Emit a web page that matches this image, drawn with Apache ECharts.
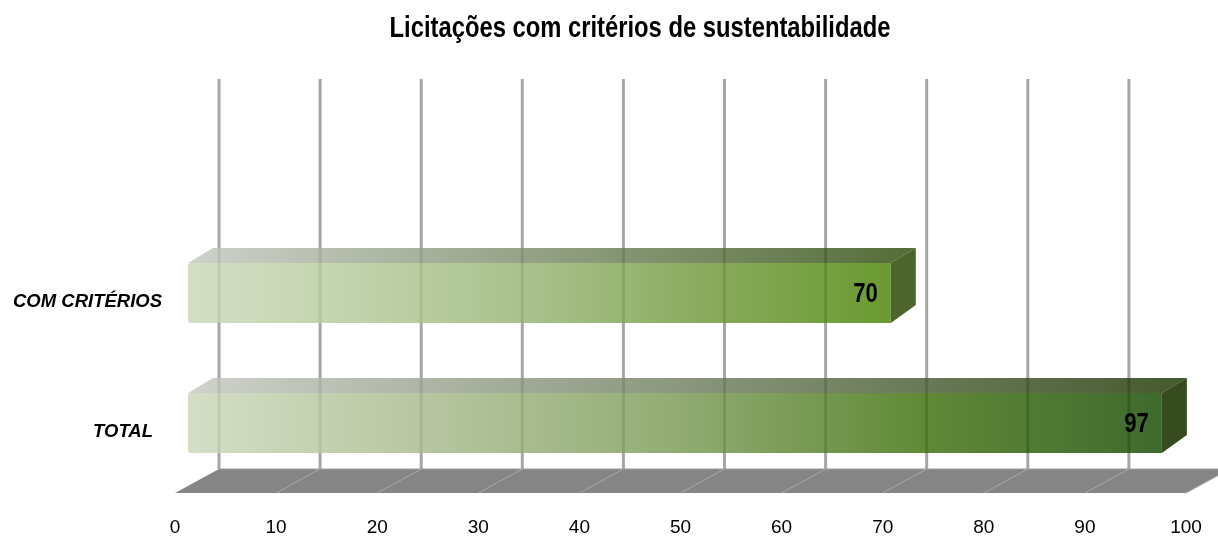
<!DOCTYPE html>
<html>
<head>
<meta charset="utf-8">
<script src="https://cdn.jsdelivr.net/npm/echarts@6/dist/echarts.min.js"></script>
<style>
html,body{margin:0;padding:0;background:#fff;}
#chart{width:1218px;height:538px;}
</style>
</head>
<body>
<div id="chart"></div>
<script>
const chartTitle = 'Licitações com critérios de sustentabilidade';
const categories = ['TOTAL', 'COM CRITÉRIOS'];
const values = [97, 70];
const xTicks = [0, 10, 20, 30, 40, 50, 60, 70, 80, 90, 100];

const FONT = "'Liberation Sans', Arial, sans-serif";
const NARROW_SCALE = 0.82;
const DEPTH_X = 44, DEPTH_Y = 24;      // back wall offset for floor/grid
const BAR_DX = 25, BAR_DY = 15;         // bar depth
const barStyles = [
  { front: ['#cbd7b9', '#a6b98a', '#7a9a55', '#3f700c', '#144900'], topL: '#c4c8c0', topR: '#1c3500', side: '#203905' },
  { front: ['#cbd7b9', '#b2c897', '#94b270', '#6e9736', '#498403'], topL: '#c4c8c0', topR: '#2e4c0c', side: '#3a5416' }
];

const chart = echarts.init(document.getElementById('chart'), null, { renderer: 'canvas' });

const option = {
  animation: false,
  backgroundColor: '#ffffff',
  graphic: [
    {
      type: 'text',
      x: 640, y: 29,
      scaleX: NARROW_SCALE,
      style: {
        text: chartTitle,
        align: 'center', verticalAlign: 'middle',
        fontFamily: FONT, fontWeight: 'bold', fontSize: 29, fill: '#000'
      }
    }
  ],
  grid: [
    { left: 175, right: 32, top: 79, bottom: 45, outerBoundsMode: 'none', containLabel: false },
    { left: 188, right: 26, top: 228, bottom: 50, outerBoundsMode: 'none', containLabel: false }
  ],
  xAxis: [
    {
      gridIndex: 0, type: 'value', min: 0, max: 100, interval: 10,
      axisLine: { show: false }, axisTick: { show: false }, splitLine: { show: false },
      axisLabel: { fontFamily: FONT, fontSize: 19, color: '#000', margin: 25 }
    },
    {
      gridIndex: 1, type: 'value', min: 0, max: 100, interval: 10, show: false
    }
  ],
  yAxis: [
    { gridIndex: 0, type: 'value', min: 0, max: 1, show: false },
    {
      gridIndex: 1, type: 'category', data: categories,
      axisLine: { show: false }, axisTick: { show: false }, splitLine: { show: false },
      axisLabel: {
        margin: 26,
        formatter: function (v) { return v === 'TOTAL' ? '{b|' + v + '}' : '{a|' + v + '}'; },
        rich: {
          a: { fontFamily: FONT, fontSize: 18.5, fontWeight: 'bold', fontStyle: 'italic', color: '#000', padding: [18, 0, 0, 0] },
          b: { fontFamily: FONT, fontSize: 18.5, fontWeight: 'bold', fontStyle: 'italic', color: '#000', padding: [18, 9, 0, 0] }
        }
      }
    }
  ],
  series: [
    {
      type: 'custom',
      xAxisIndex: 0, yAxisIndex: 0,
      silent: true,
      data: [[0, 0]],
      renderItem: function (params, api) {
        const cs = params.coordSys;
        const yFront = cs.y + cs.height;
        const yBack = yFront - DEPTH_Y;
        const children = [];
        xTicks.forEach(function (t) {
          const x = api.coord([t, 0])[0] + DEPTH_X;
          children.push({
            type: 'line', z2: 1,
            shape: { x1: x, y1: cs.y, x2: x, y2: yBack },
            style: { stroke: '#a6a6a6', lineWidth: 3 }
          });
        });
        const x0 = api.coord([xTicks[0], 0])[0];
        const x1 = api.coord([xTicks[xTicks.length - 1], 0])[0];
        children.push({
          type: 'polygon', z2: 2,
          shape: { points: [[x0, yFront], [x0 + DEPTH_X, yBack], [x1 + DEPTH_X, yBack], [x1, yFront]] },
          style: { fill: '#858585' }
        });
        children.push({
          type: 'line', z2: 3,
          shape: { x1: x0 + DEPTH_X, y1: yBack, x2: x1 + DEPTH_X, y2: yBack },
          style: { stroke: '#9d9d9d', lineWidth: 1 }
        });
        xTicks.slice(1).forEach(function (t) {
          const x = api.coord([t, 0])[0];
          children.push({
            type: 'line', z2: 3,
            shape: { x1: x, y1: yFront, x2: x + DEPTH_X, y2: yBack },
            style: { stroke: '#a9a9a9', lineWidth: 1 }
          });
        });
        return { type: 'group', children: children };
      }
    },
    {
      type: 'custom',
      xAxisIndex: 1, yAxisIndex: 1,
      silent: true,
      z: 5,
      data: values.map(function (v, i) { return [v, i]; }),
      renderItem: function (params, api) {
        const v = api.value(0);
        const idx = api.value(1);
        const st = barStyles[params.dataIndex];
        const start = api.coord([0, idx]);
        const end = api.coord([v, idx]);
        const h = api.size([0, 1])[1] * 0.46;
        const xl = start[0], xr = end[0];
        const yt = end[1] - h / 2, yb = end[1] + h / 2;
        const frontGrad = new echarts.graphic.LinearGradient(0, 0, 1, 0,
          st.front.map(function (c, k) { return { offset: k / (st.front.length - 1), color: c }; })
        );
        const topGrad = new echarts.graphic.LinearGradient(0, 0, 1, 0, [
          { offset: 0, color: st.topL }, { offset: 1, color: st.topR }
        ]);
        return {
          type: 'group',
          children: [
            {
              type: 'polygon',
              shape: { points: [[xl, yt], [xl + BAR_DX, yt - BAR_DY], [xr + BAR_DX, yt - BAR_DY], [xr, yt]] },
              style: { fill: topGrad, opacity: 0.82 }
            },
            {
              type: 'polygon',
              shape: { points: [[xr, yt], [xr + BAR_DX, yt - BAR_DY], [xr + BAR_DX, yb - BAR_DY - 3], [xr, yb]] },
              style: { fill: st.side, opacity: 0.9 }
            },
            {
              type: 'rect',
              shape: { x: xl, y: yt, width: xr - xl, height: yb - yt, r: [3, 0, 0, 3] },
              style: { fill: frontGrad, opacity: 0.82 }
            },
            {
              type: 'text',
              x: xr - 13, y: end[1] + 2,
              scaleX: NARROW_SCALE,
              style: {
                text: String(v),
                align: 'right', verticalAlign: 'middle',
                fontFamily: FONT, fontWeight: 'bold', fontSize: 27, fill: '#000'
              }
            }
          ]
        };
      }
    }
  ]
};

chart.setOption(option);
</script>
</body>
</html>
